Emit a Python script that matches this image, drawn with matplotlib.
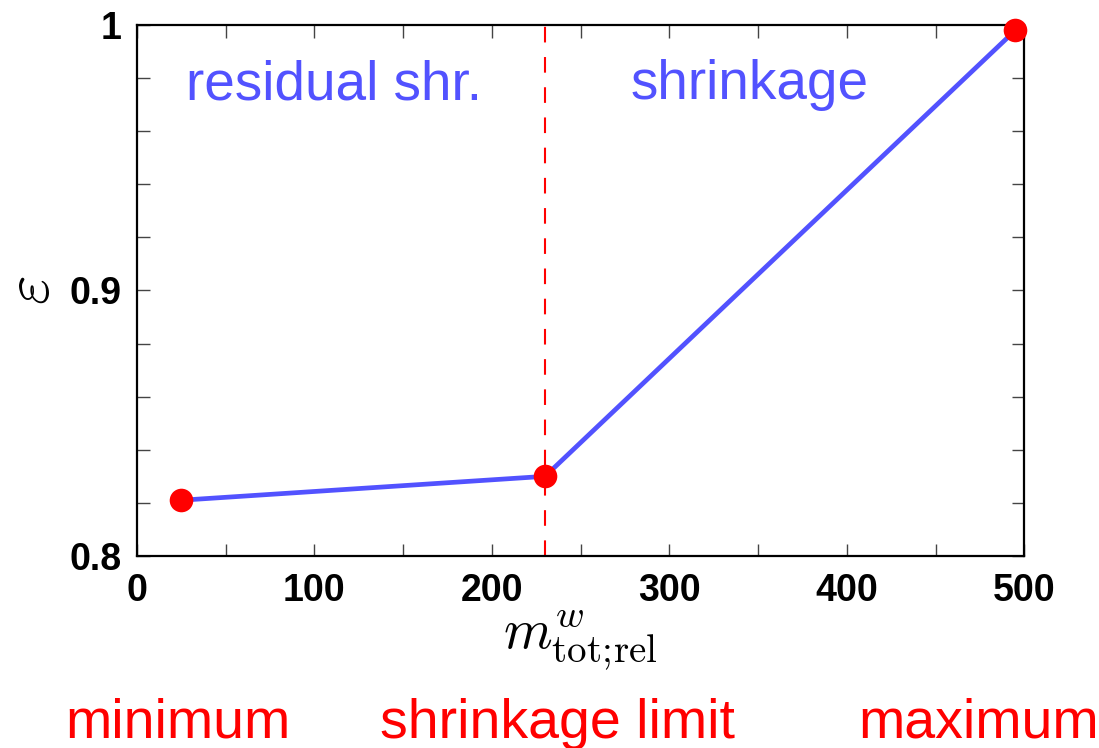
import matplotlib.pyplot as plt
from matplotlib.ticker import MultipleLocator, FixedLocator, FuncFormatter

plt.rcParams['mathtext.fontset'] = 'cm'
plt.rcParams['font.family'] = ['Liberation Sans', 'DejaVu Sans']

# data
m_rel = [25, 230, 495]
eps = [0.821, 0.830, 0.998]
shrink_limit = 230
y_labels = {0.8: '0.8', 0.9: '0.9', 1.0: '1'}

blue = '#5252ff'
red = '#ff0000'

fig = plt.figure(figsize=(10.99, 7.48), dpi=100)
ax = fig.add_axes([0.1245, 0.2567, 0.8075, 0.71])

ax.axvline(shrink_limit, color=red, lw=1.5, dashes=(7.5, 7), dash_capstyle='butt')
ax.plot(m_rel, eps, color=blue, lw=3.4, zorder=3)
ax.plot(m_rel, eps, 'o', color=red, ms=17, mec='none', zorder=4, clip_on=False)

ax.set_xlim(0, 500)
ax.set_ylim(0.8, 1.0)
ax.xaxis.set_major_locator(MultipleLocator(100))
ax.xaxis.set_minor_locator(MultipleLocator(50))
ax.yaxis.set_major_locator(FixedLocator(list(y_labels.keys())))
ax.yaxis.set_minor_locator(MultipleLocator(0.02))
ax.yaxis.set_major_formatter(FuncFormatter(lambda v, p: y_labels.get(round(v, 2), '')))

for which in ('major', 'minor'):
    ax.tick_params(which=which, direction='in', length=9, width=1.0, color='#444444',
                   top=True, right=True)
ax.tick_params(axis='x', which='major', pad=12)
ax.tick_params(axis='y', which='major', pad=11)
for lab in ax.get_xticklabels() + ax.get_yticklabels():
    lab.set_fontweight('bold')
    lab.set_fontsize(27)
for sp in ax.spines.values():
    sp.set_linewidth(1.6)

ax.set_xlabel(r'$m^{w}_{\mathrm{tot;\!rel}}$', fontsize=40, labelpad=0)
ax.set_ylabel(r'$\varepsilon$', fontsize=46, va='center', ha='center')
ax.yaxis.set_label_coords(-0.118, 0.5)

ax.text(111, 0.972, 'residual shr.', color=blue, fontsize=39.5, ha='center', va='baseline')
ax.text(345, 0.972, 'shrinkage', color=blue, fontsize=39.5, ha='center', va='baseline')

fig.text(0.162, 0.0135, 'minimum', color=red, fontsize=40, ha='center', va='baseline')
fig.text(0.507, 0.0135, 'shrinkage limit', color=red, fontsize=40, ha='center', va='baseline')
fig.text(0.890, 0.0135, 'maximum', color=red, fontsize=40, ha='center', va='baseline')

fig.savefig('out.png', dpi=100)
